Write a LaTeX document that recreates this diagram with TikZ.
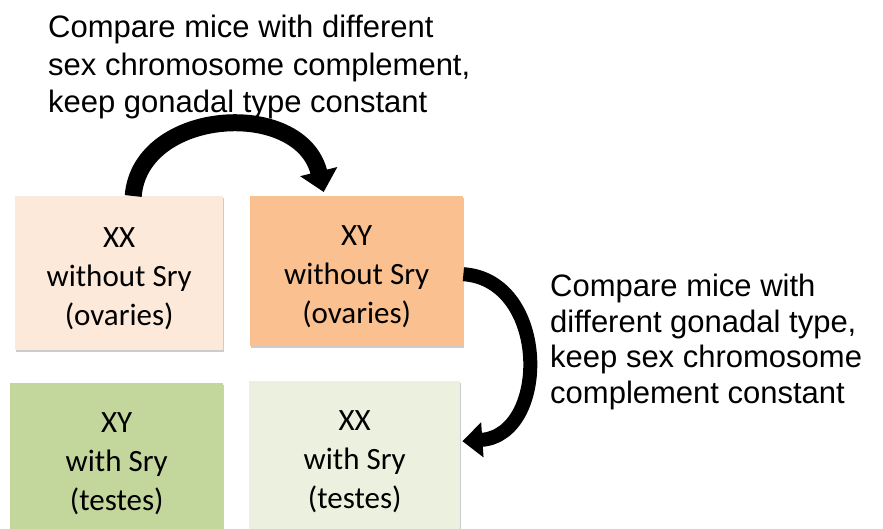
\documentclass[tikz,border=0pt]{standalone}
\usepackage{fontspec}
\setmainfont{Liberation Sans}
\newfontfamily\boxfont{Carlito}
\usetikzlibrary{arrows.meta,calc,shadows}
\definecolor{peachlight}{HTML}{FDE9D9}
\definecolor{peachdark}{HTML}{FAC090}
\definecolor{greendark}{HTML}{C3D69B}
\definecolor{greenlight}{HTML}{EBF1DE}
\newcommand{\toppad}{\rule{0pt}{30pt}}
\tikzset{
  gbox/.style={anchor=north west, inner sep=0pt, align=center,
    font=\boxfont\fontsize{31}{39}\selectfont,
    drop shadow={shadow xshift=0.5pt,shadow yshift=-2pt,opacity=0.2,fill=black}},
  note/.style={anchor=north west, inner sep=0pt, align=left},
}
\begin{document}
\begin{tikzpicture}[x=1pt,y=-1pt]
\useasboundingbox (0,0) rectangle (883,529);
\node[gbox, fill=peachlight, minimum width=208pt, minimum height=154pt] (b1) at (15,196)
  {\toppad XX\\without Sry\\(ovaries)};
\node[gbox, fill=peachdark, minimum width=213pt, minimum height=150pt] (b2) at (250,196)
  {\toppad XY\\without Sry\\(ovaries)};
\node[gbox, fill=greendark, minimum width=213pt, minimum height=150pt] (b3) at (10,383)
  {\toppad XY\\with Sry\\(testes)};
\node[gbox, fill=greenlight, minimum width=211pt, minimum height=150pt] (b4) at (249,381)
  {\toppad XX\\with Sry\\(testes)};
\node[note, font=\fontsize{31}{37.5}\selectfont] (t1) at (48,15)
  {Compare mice with different\\sex chromosome complement,\\keep gonadal type constant};
\node[note, font=\fontsize{31}{35.5}\selectfont] (t2) at (550,274)
  {Compare mice with\\different gonadal type,\\keep sex chromosome\\complement constant};
\draw[line width=17pt, -{Triangle[width=37pt,length=21pt]}]
  ($(b1.north)+(14,0)$) .. controls +(7,-88) and +(-23,-94) .. ($(b2.north)+(-33,-4)$);
\draw[line width=14pt, -{Triangle[width=34pt,length=20pt]}]
  ($(b2.east)+(0,3)$) .. controls +(86,6) and +(87,-6) .. ($(b4.east)+(2,-15)$);
\end{tikzpicture}
\end{document}
